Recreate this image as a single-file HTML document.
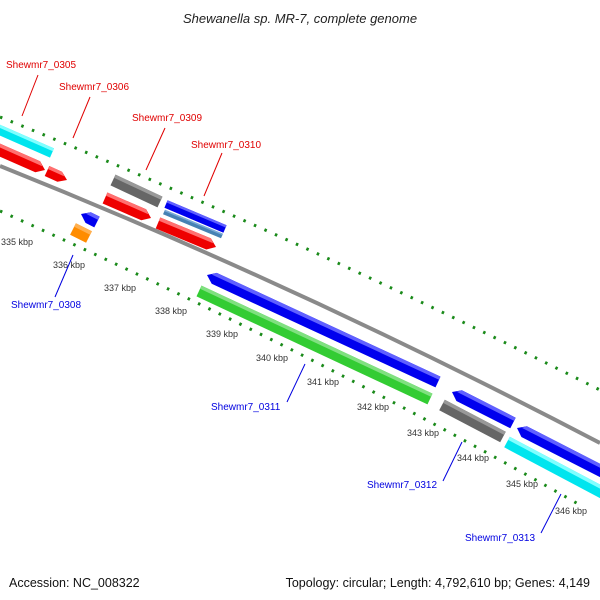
<!DOCTYPE html>
<html><head><meta charset="utf-8"><style>
html,body{margin:0;padding:0;background:#fff;width:600px;height:600px;overflow:hidden}
svg{display:block}
text{font-family:"Liberation Sans","DejaVu Sans",sans-serif}
</style></head><body>
<svg id="s" width="600" height="600" viewBox="0 0 600 600" xmlns="http://www.w3.org/2000/svg">
<rect width="600" height="600" fill="#fff"/>
<text x="300" y="23" text-anchor="middle" font-size="13" font-style="italic" fill="#222">Shewanella sp. MR-7, complete genome</text>
<path d="M0,117 Q300,238 600,390" fill="none" stroke="#1a8a1a" stroke-width="3" stroke-dasharray="2.5,9"/>
<path d="M0,211 Q300,345 580,505" fill="none" stroke="#1a8a1a" stroke-width="3" stroke-dasharray="2.5,9"/>
<path d="M0,166 Q300,286 600,443" fill="none" stroke="#8a8a8a" stroke-width="4"/>
<g id="g"></g>
<g font-size="9" fill="#333">
<text x="1" y="245">335 kbp</text><text x="53" y="268">336 kbp</text><text x="104" y="291">337 kbp</text>
<text x="155" y="314">338 kbp</text><text x="206" y="337">339 kbp</text><text x="256" y="361">340 kbp</text>
<text x="307" y="385">341 kbp</text><text x="357" y="410">342 kbp</text><text x="407" y="436">343 kbp</text>
<text x="457" y="461">344 kbp</text><text x="506" y="487">345 kbp</text><text x="555" y="514">346 kbp</text>
</g>
<g font-size="10" fill="#e00000">
<text x="6" y="68">Shewmr7_0305</text><text x="59" y="90">Shewmr7_0306</text>
<text x="132" y="121">Shewmr7_0309</text><text x="191" y="148">Shewmr7_0310</text>
</g>
<g stroke="#e00000" stroke-width="1">
<line x1="38" y1="75" x2="22" y2="116"/><line x1="90" y1="97" x2="73" y2="138"/>
<line x1="165" y1="128" x2="146" y2="170"/><line x1="222" y1="153" x2="204" y2="196"/>
</g>
<g font-size="10" fill="#0000e0">
<text x="11" y="308">Shewmr7_0308</text><text x="211" y="410">Shewmr7_0311</text>
<text x="367" y="488">Shewmr7_0312</text><text x="465" y="541">Shewmr7_0313</text>
</g>
<g stroke="#0000e0" stroke-width="1">
<line x1="73" y1="255" x2="55" y2="297"/><line x1="305" y1="364" x2="287" y2="402"/>
<line x1="462" y1="442" x2="443" y2="481"/><line x1="561" y1="494" x2="541" y2="533"/>
</g>
<text x="9" y="587" font-size="12.5" fill="#111">Accession: NC_008322</text>
<text x="590" y="587" font-size="12.5" fill="#111" text-anchor="end">Topology: circular; Length: 4,792,610 bp; Genes: 4,149</text>
</svg>
<script>
var g=document.getElementById('g');
function bar(x1,y1,x2,y2,w,col,light,arrow){
 var dx=x2-x1,dy=y2-y1,L=Math.hypot(dx,dy),ux=dx/L,uy=dy/L,nx=-uy,ny=ux,h=w/2,a=Math.min(8,L/2);
 var P=[];
 function p(t,s){return (x1+ux*t+nx*s).toFixed(1)+','+(y1+uy*t+ny*s).toFixed(1);}
 if(arrow==1){P=[p(0,-h),p(L-a,-h),p(L,0),p(L-a,h),p(0,h)];}
 else if(arrow==-1){P=[p(a,-h),p(L,-h),p(L,h),p(a,h),p(0,0)];}
 else P=[p(0,-h),p(L,-h),p(L,h),p(0,h)];
 var e=document.createElementNS('http://www.w3.org/2000/svg','polygon');
 e.setAttribute('points',P.join(' '));e.setAttribute('fill',col);g.appendChild(e);
 var s0=arrow==-1?a*0.5:0,s1=arrow==1?L-a*0.5:L;
 var f=document.createElementNS('http://www.w3.org/2000/svg','polygon');
 f.setAttribute('points',[p(s0+(arrow==-1?a*0.5:0),-h),p(s1-(arrow==1?a*0.5:0),-h),p(s1,-h*0.4),p(s0,-h*0.4)].join(' '));
 f.setAttribute('fill',light);g.appendChild(f);
}
bar(-5,128,52,153,10,'#00e5ee','#80ffff',0);
bar(-5,148,45,170,12,'#ee0000','#ff7070',1);
bar(47,171,67,180,11,'#ee0000','#ff7070',1);
bar(113,180,160,202,12,'#666','#999',0);
bar(105,198,151,218,12,'#ee0000','#ff7070',1);
bar(166,204,225,229,8,'#0000ee','#6060ff',0);
bar(164,212,222,236,5,'#4682b4','#7aaad8',0);
bar(158,223,216,247,12,'#ee0000','#ff7070',1);
bar(452,392,513,423,12,'#0000ee','#6060ff',-1);
bar(517,428,605,473,12,'#0000ee','#6060ff',-1);
bar(442,405,503,437,12,'#666','#999',0);
bar(507,442,605,494,12,'#00e5ee','#80ffff',0);
bar(81,214,97,222,12,'#0000ee','#6060ff',-1);
bar(73,229,89,237,13,'#ff8c00','#ffb050',0);
bar(207,275,438,382,12,'#0000ee','#6060ff',-1);
bar(199,291,430,399,12,'#33cc33','#80e080',0);
</script>
</body></html>
